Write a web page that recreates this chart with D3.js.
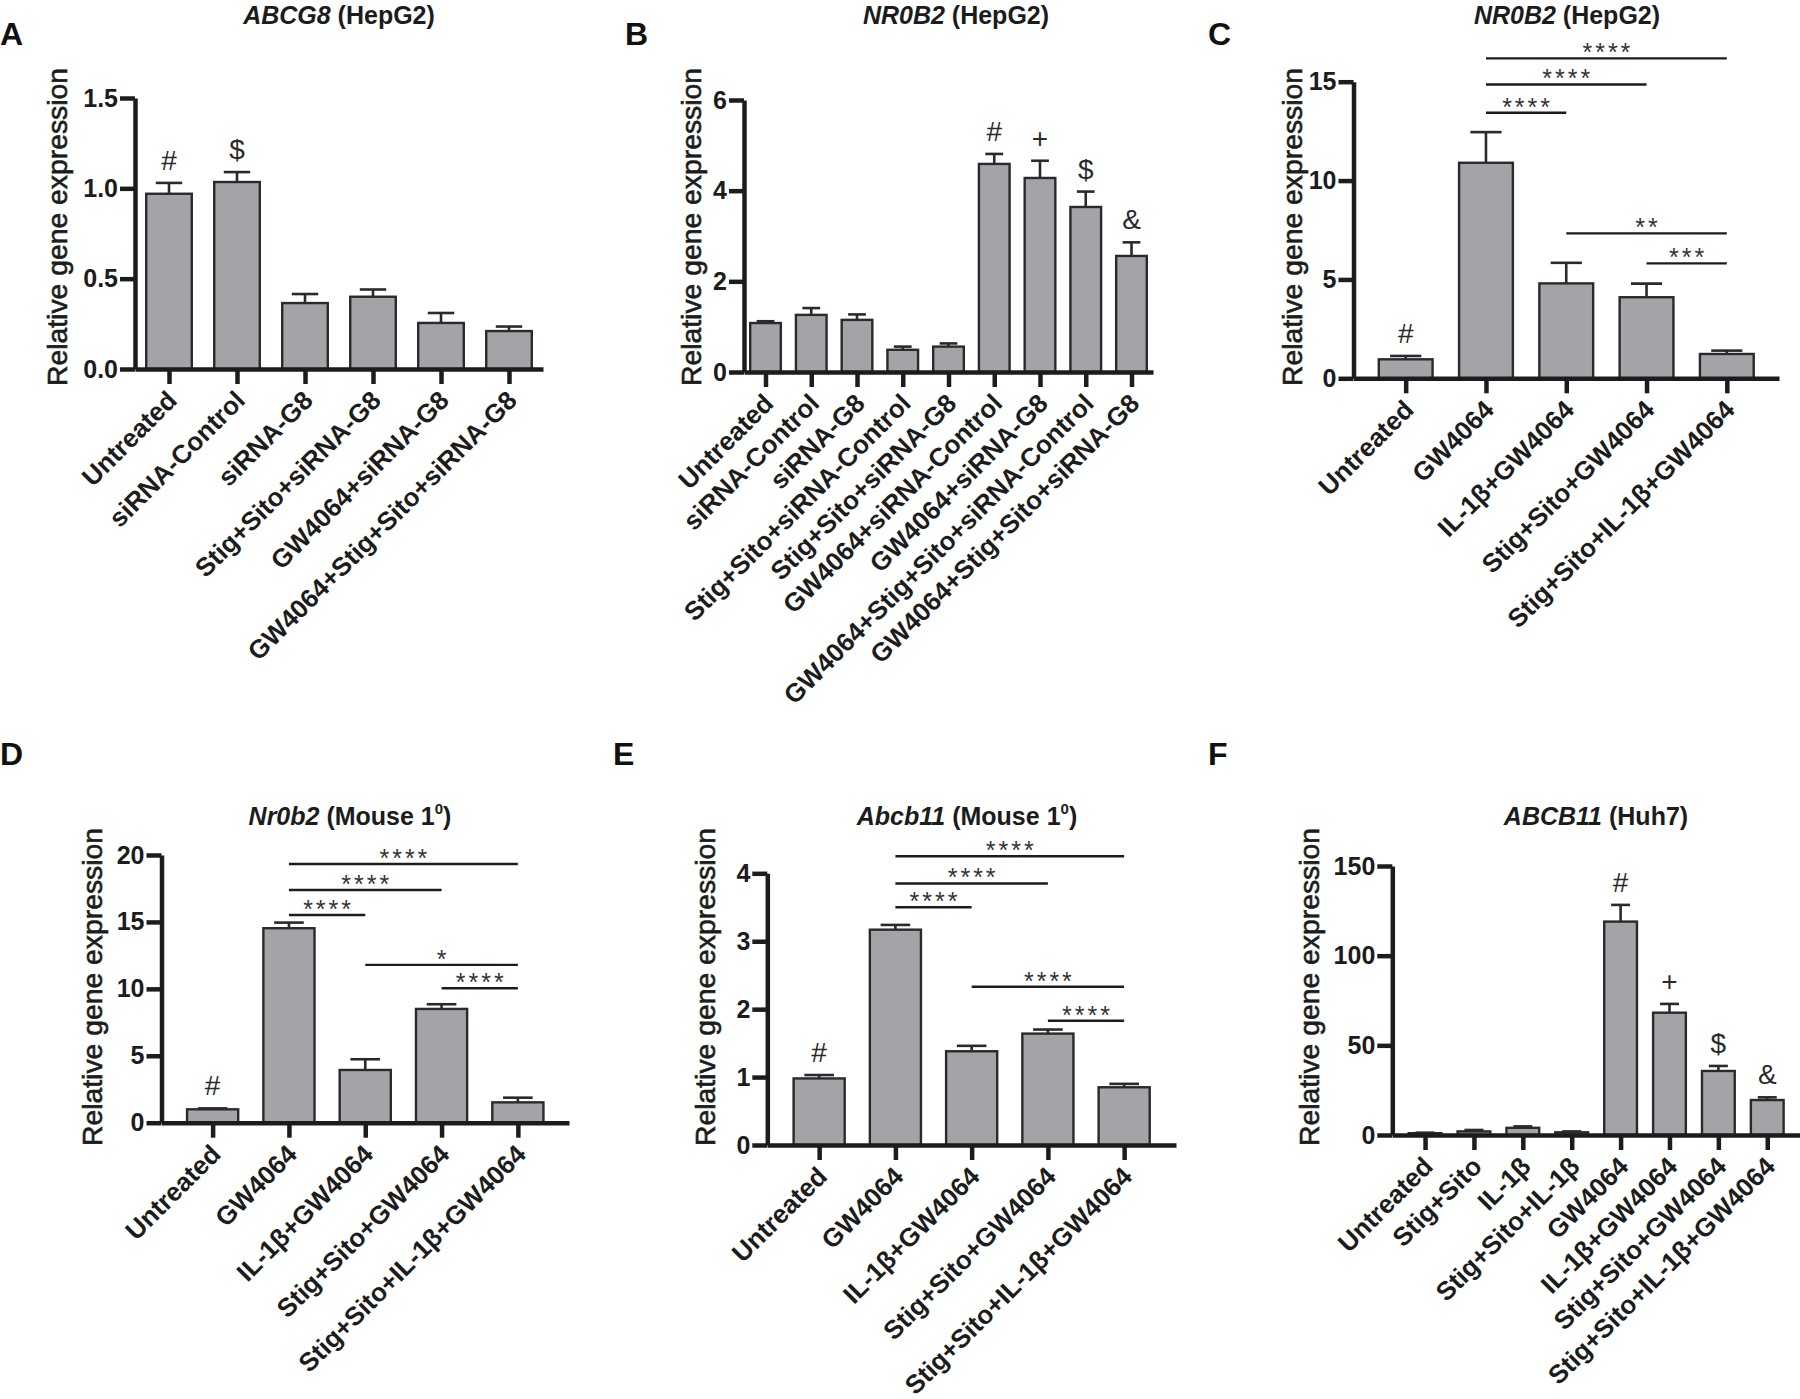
<!DOCTYPE html>
<html><head><meta charset="utf-8">
<script src="https://cdn.jsdelivr.net/npm/d3@7"></script>
<style>
body{margin:0;background:#fff}
svg{display:block}
text{font-family:"Liberation Sans",Arial,Helvetica,sans-serif}
</style>
</head><body>
<svg id="fig" width="1800" height="1399"></svg>
<script>
// ---------------- DATA ----------------
const catsA = ["Untreated","siRNA-Control","siRNA-G8","Stig+Sito+siRNA-G8","GW4064+siRNA-G8","GW4064+Stig+Sito+siRNA-G8"];
const meanA = [0.97,1.035,0.365,0.40,0.255,0.21];
const semA  = [0.06,0.055,0.05,0.04,0.055,0.025];
const marksA = ["#","$","","","",""];
const ticksA = [0,0.5,1.0,1.5];
const tickLabelsA = ["0.0","0.5","1.0","1.5"];

const catsB = ["Untreated","siRNA-Control","siRNA-G8","Stig+Sito+siRNA-Control","Stig+Sito+siRNA-G8","GW4064+siRNA-Control","GW4064+siRNA-G8","GW4064+Stig+Sito+siRNA-Control","GW4064+Stig+Sito+siRNA-G8"];
const meanB = [1.08,1.26,1.15,0.49,0.56,4.59,4.28,3.64,2.56];
const semB  = [0.04,0.15,0.12,0.07,0.07,0.22,0.38,0.34,0.30];
const marksB = ["","","","","","#","+","$","&"];
const ticksB = [0,2,4,6];
const tickLabelsB = ["0","2","4","6"];

const catsC = ["Untreated","GW4064","IL-1β+GW4064","Stig+Sito+GW4064","Stig+Sito+IL-1β+GW4064"];
const meanC = [0.96,10.9,4.8,4.1,1.23];
const semC  = [0.17,1.55,1.04,0.69,0.17];
const marksC = ["#","","","",""];
const ticksC = [0,5,10,15];
const tickLabelsC = ["0","5","10","15"];
const sigPairsC = [[1,2],[1,3],[1,4],[2,4],[3,4]];
const sigLevelsC = [13.43,14.86,16.18,7.33,5.81];
const sigTextC = ["****","****","****","**","***"];

const catsD = ["Untreated","GW4064","IL-1β+GW4064","Stig+Sito+GW4064","Stig+Sito+IL-1β+GW4064"];
const meanD = [1.0,14.53,3.94,8.5,1.52];
const semD  = [0.07,0.42,0.8,0.35,0.35];
const marksD = ["#","","","",""];
const ticksD = [0,5,10,15,20];
const tickLabelsD = ["0","5","10","15","20"];
const sigPairsD = [[1,2],[1,3],[1,4],[2,4],[3,4]];
const sigLevelsD = [15.52,17.39,19.33,11.79,10.04];
const sigTextD = ["****","****","****","*","****"];

const catsE = ["Untreated","GW4064","IL-1β+GW4064","Stig+Sito+GW4064","Stig+Sito+IL-1β+GW4064"];
const meanE = [0.98,3.17,1.38,1.64,0.85];
const semE  = [0.05,0.07,0.08,0.06,0.05];
const marksE = ["#","","","",""];
const ticksE = [0,1,2,3,4];
const tickLabelsE = ["0","1","2","3","4"];
const sigPairsE = [[1,2],[1,3],[1,4],[2,4],[3,4]];
const sigLevelsE = [3.50,3.85,4.25,2.33,1.83];
const sigTextE = ["****","****","****","****","****"];

const catsF = ["Untreated","Stig+Sito","IL-1β","Stig+Sito+IL-1β","GW4064","IL-1β+GW4064","Stig+Sito+GW4064","Stig+Sito+IL-1β+GW4064"];
const meanF = [1,2,4,1.5,119,68.2,35.7,19.5];
const semF  = [0.3,0.8,0.8,0.5,9.3,4.9,2.8,1.5];
const marksF = ["","","","","#","+","$","&"];
const ticksF = [0,50,100,150];
const tickLabelsF = ["0","50","100","150"];

const titlesItalic = ["ABCG8","NR0B2","NR0B2","Nr0b2","Abcb11","ABCB11"];
const titlesRest   = [" (HepG2)"," (HepG2)"," (HepG2)"," (Mouse 1"," (Mouse 1"," (Huh7)"];
const titlesSup    = ["","","","0","0",""];
const panelLetters = ["A","B","C","D","E","F"];
const yAxisTitle = "Relative gene expression";

// ---------------- LAYOUT (positions only) ----------------
const layouts = [
  {x0:135,   x1:543,   yTop:98,   yBot:369,   pad:0.5,  titleX:339,  titleY:24,  letterX:0,    letterY:45,  ylabX:67,   ylabY:227},
  {x0:744,   x1:1153,  yTop:100,  yBot:372,   pad:0.47, titleX:956,  titleY:24,  letterX:625,  letterY:45,  ylabX:701,  ylabY:227},
  {x0:1353.5,x1:1779,  yTop:81.7, yBot:378.3, pad:0.65, titleX:1567, titleY:24,  letterX:1208, letterY:45,  ylabX:1302, ylabY:227},
  {x0:161.5, x1:569,   yTop:855,  yBot:1122.7,pad:0.67, titleX:350,  titleY:825, letterX:0,    letterY:765, ylabX:102,  ylabY:987},
  {x0:767.3, x1:1176,  yTop:873.3,yBot:1145,  pad:0.68, titleX:967,  titleY:825, letterX:613,  letterY:765, ylabX:715,  ylabY:987},
  {x0:1392.3,x1:1800,  yTop:866,  yBot:1135,  pad:0.67, titleX:1596, titleY:825, letterX:1208, letterY:765, ylabX:1319, ylabY:987}
];

const panels = [
  {cats:catsA, mean:meanA, sem:semA, marks:marksA, ticks:ticksA, tl:tickLabelsA, sig:null},
  {cats:catsB, mean:meanB, sem:semB, marks:marksB, ticks:ticksB, tl:tickLabelsB, sig:null},
  {cats:catsC, mean:meanC, sem:semC, marks:marksC, ticks:ticksC, tl:tickLabelsC, sig:{pairs:sigPairsC, levels:sigLevelsC, text:sigTextC}},
  {cats:catsD, mean:meanD, sem:semD, marks:marksD, ticks:ticksD, tl:tickLabelsD, sig:{pairs:sigPairsD, levels:sigLevelsD, text:sigTextD}},
  {cats:catsE, mean:meanE, sem:semE, marks:marksE, ticks:ticksE, tl:tickLabelsE, sig:{pairs:sigPairsE, levels:sigLevelsE, text:sigTextE}},
  {cats:catsF, mean:meanF, sem:semF, marks:marksF, ticks:ticksF, tl:tickLabelsF, sig:null}
];

const INK = "#1c1c1c";
const BAR = "#a3a4a8";
const FONT = "Liberation Sans, Arial, sans-serif";
const svg = d3.select("#fig");

panels.forEach((p, i) => {
  const L = layouts[i];
  const g = svg.append("g");
  const x = d3.scalePoint().domain(p.cats).range([L.x0, L.x1]).padding(L.pad);
  const y = d3.scaleLinear().domain([0, d3.max(p.ticks)]).range([L.yBot, L.yTop]);
  const bw = x.step() * 0.67;
  const data = p.cats.map((c, k) => ({c, m:p.mean[k], s:p.sem[k], mark:p.marks[k]}));

  // bars
  g.selectAll("rect.bar").data(data).join("rect")
    .attr("x", d => x(d.c) - bw/2).attr("width", bw)
    .attr("y", d => y(d.m)).attr("height", d => y(0) - y(d.m))
    .attr("fill", BAR).attr("stroke", "#2a2a2a").attr("stroke-width", 2.4);

  // error bars (upper only)
  const eb = g.selectAll("g.err").data(data).join("g").attr("stroke", "#2a2a2a").attr("stroke-width", 2.6);
  eb.append("line").attr("x1", d => x(d.c)).attr("x2", d => x(d.c))
    .attr("y1", d => y(d.m)).attr("y2", d => y(d.m + d.s));
  eb.append("line").attr("x1", d => x(d.c) - bw*0.29).attr("x2", d => x(d.c) + bw*0.29)
    .attr("y1", d => y(d.m + d.s)).attr("y2", d => y(d.m + d.s));

  // annotation marks
  g.selectAll("text.mark").data(data.filter(d => d.mark)).join("text")
    .attr("x", d => x(d.c)).attr("y", d => y(d.m + d.s) - 13)
    .attr("text-anchor", "middle").attr("font-size", 28).attr("fill", "#2a2a2a")
    .text(d => d.mark);

  // significance brackets
  if (p.sig) {
    p.sig.pairs.forEach((pr, k) => {
      const xa = x(p.cats[pr[0]]), xb = x(p.cats[pr[1]]), yy = y(p.sig.levels[k]);
      g.append("line").attr("x1", xa).attr("x2", xb).attr("y1", yy).attr("y2", yy)
        .attr("stroke", INK).attr("stroke-width", 2.4);
      g.append("text").attr("x", (xa + xb)/2 + 1.5).attr("y", yy + 3)
        .attr("text-anchor", "middle").attr("font-size", 25).attr("letter-spacing", 3)
        .attr("fill", "#333").text(p.sig.text[k]);
    });
  }

  // y axis
  const ya = g.append("g").attr("transform", `translate(${L.x0},0)`)
    .call(d3.axisLeft(y).tickValues(p.ticks).tickFormat((d, k) => p.tl[k]).tickSize(15).tickSizeOuter(0).tickPadding(2));
  ya.select(".domain").attr("stroke", INK).attr("stroke-width", 4.5);
  ya.selectAll(".tick line").attr("stroke", INK).attr("stroke-width", 4.5);
  ya.selectAll(".tick text").attr("font-size", 25).attr("font-weight", "bold").attr("fill", INK)
    .attr("font-family", FONT);

  // x axis
  const xa = g.append("g").attr("transform", `translate(0,${L.yBot})`)
    .call(d3.axisBottom(x).tickSize(15).tickSizeOuter(0));
  xa.select(".domain").attr("stroke", INK).attr("stroke-width", 4.5);
  xa.selectAll(".tick line").attr("stroke", INK).attr("stroke-width", 4.5);
  xa.selectAll(".tick text").attr("font-size", 26).attr("font-weight", "bold").attr("fill", INK)
    .attr("font-family", FONT)
    .attr("text-anchor", "end").attr("x", 0).attr("y", 0).attr("dy", 0)
    .attr("transform", "translate(9,33) rotate(-45)");

  // y axis title
  g.append("text").attr("transform", `translate(${L.ylabX},${L.ylabY}) rotate(-90)`)
    .attr("text-anchor", "middle").attr("font-size", 28).attr("fill", INK)
    .attr("stroke", INK).attr("stroke-width", 0.6)
    .attr("textLength", 318).attr("lengthAdjust", "spacingAndGlyphs")
    .text(yAxisTitle);

  // panel title
  const t = g.append("text").attr("x", L.titleX).attr("y", L.titleY)
    .attr("text-anchor", "middle").attr("font-size", 25).attr("font-weight", "bold").attr("fill", INK);
  t.append("tspan").attr("font-style", "italic").text(titlesItalic[i]);
  t.append("tspan").text(titlesRest[i]);
  if (titlesSup[i]) {
    t.append("tspan").attr("font-size", 15).attr("dy", -11).text(titlesSup[i]);
    t.append("tspan").attr("dy", 11).text(")");
  }

  // panel letter
  g.append("text").attr("x", L.letterX).attr("y", L.letterY)
    .attr("font-size", 32).attr("font-weight", "bold").attr("fill", "#111")
    .text(panelLetters[i]);
});
</script>
</body></html>
